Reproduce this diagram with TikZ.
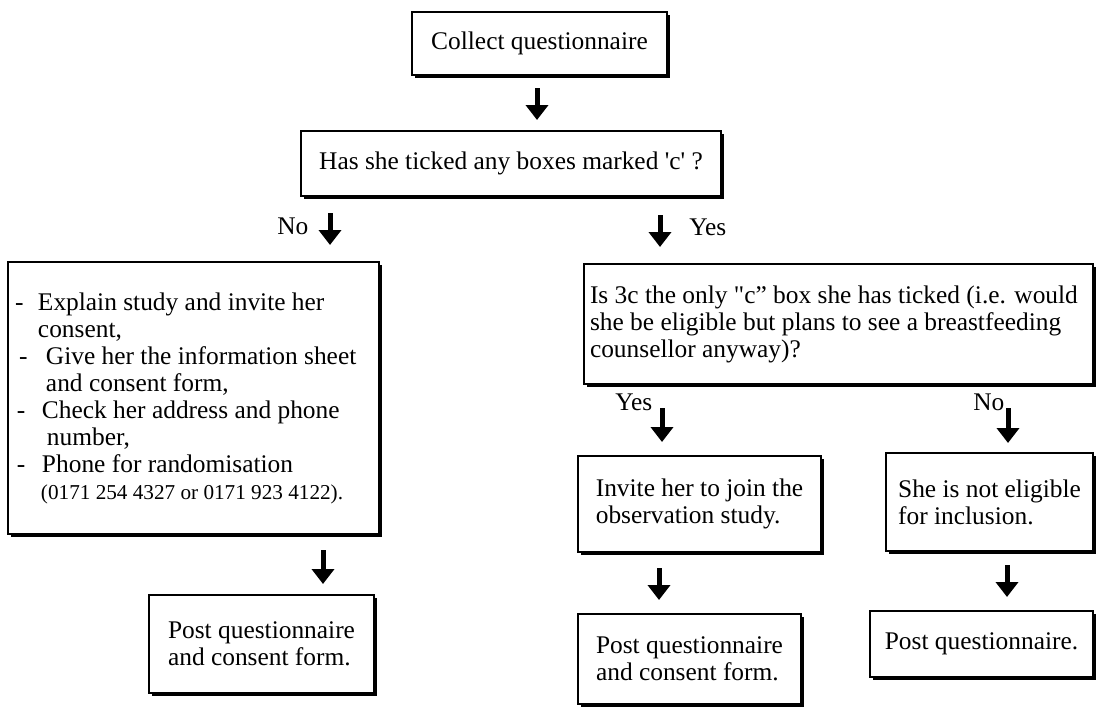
\documentclass[tikz,border=0pt]{standalone}
\usepackage{fontspec}
\setmainfont{Liberation Serif}[Ligatures=TeXOff]
\usetikzlibrary{arrows.meta,shadows}
\tikzset{
  box/.style={draw, fill=white, line width=0.75pt, inner sep=0pt, align=left,
    font=\fontsize{12.7}{13.5}\selectfont,
    drop shadow={opacity=1, fill=black, shadow xshift=1.4pt, shadow yshift=-1.4pt}},
  lbl/.style={inner sep=0pt, anchor=base west, font=\fontsize{12.7}{13.5}\selectfont},
  bigarrow/.style={line width=2.5pt, -{Triangle[width=11pt,length=7.5pt]}}
}
\begin{document}
\begin{tikzpicture}[x=0.5pt,y=-0.5pt]
\useasboundingbox (0,0) rectangle (1098,707);
\fill[white] (0,0) rectangle (1098,707);

% boxes
\node[box, minimum width=127.5pt, minimum height=31.5pt] (collect) at (539.5,43.5) {Collect questionnaire};
\node[box, minimum width=210pt, minimum height=32.5pt] (ticked) at (511,163.5) {Has she ticked any boxes marked 'c' ?};
\node[box, minimum width=185.5pt, minimum height=136pt] (explain) at (193.5,398)
 {\makebox[178.5pt][l]{\makebox[11.5pt][l]{-}Explain study and invite her}\\
  \hspace*{11.5pt}consent,\\
  \hspace*{2pt}\makebox[13.5pt][l]{-}Give her the information sheet\\
  \hspace*{15.5pt}and consent form,\\
  \hspace*{1pt}\makebox[12.5pt][l]{-}Check her address and phone\\
  \hspace*{16pt}number,\\
  \hspace*{1pt}\makebox[12.5pt][l]{-}Phone for randomisation\\
  \hspace*{13pt}{\fontsize{10.6}{13.5}\selectfont (0171 254 4327 or 0171 923 4122).}};
\node[box, minimum width=254.5pt, minimum height=60pt] (only3c) at (838.5,324)
 {\makebox[248.5pt][l]{Is 3c the only "c” box she has ticked (i.e. would}\\she be eligible but plans to see a breastfeeding\\counsellor anyway)?};
\node[box, minimum width=121.5pt, minimum height=48pt] (invite) at (699.5,504) {Invite her to join the\\observation study.};
\node[box, minimum width=103.5pt, minimum height=49pt] (noteli) at (989.5,502) {She is not eligible\\for inclusion.};
\node[box, minimum width=112.5pt, minimum height=49pt] (post1) at (261.5,644) {Post questionnaire\\and consent form.};
\node[box, minimum width=111.5pt, minimum height=45pt] (post2) at (689.5,659) {Post questionnaire\\and consent form.};
\node[box, minimum width=111.5pt, minimum height=33pt] (post3) at (981.5,644) {Post questionnaire.};

% labels
\node[lbl] (no1) at (277,234) {No};
\node[lbl] (yes1) at (689,235) {Yes};
\node[lbl] (yes2) at (615,410) {Yes};
\node[lbl] (no2) at (973,410) {No};

% arrow end points
\coordinate (a1s) at (537,88);   \coordinate (a1e) at (537,120);
\coordinate (a2s) at (330,213);  \coordinate (a2e) at (330,245);
\coordinate (a3s) at (660,215);  \coordinate (a3e) at (660,247);
\coordinate (a4s) at (662,408);  \coordinate (a4e) at (662,442);
\coordinate (a5s) at (1008,408); \coordinate (a5e) at (1008,443);
\coordinate (a6s) at (323,550);  \coordinate (a6e) at (323,584);
\coordinate (a7s) at (659,568);  \coordinate (a7e) at (659,600);
\coordinate (a8s) at (1007,565); \coordinate (a8e) at (1007,597);

\foreach \i in {1,...,8} {\draw[bigarrow] (a\i s) -- (a\i e);}
\end{tikzpicture}
\end{document}
